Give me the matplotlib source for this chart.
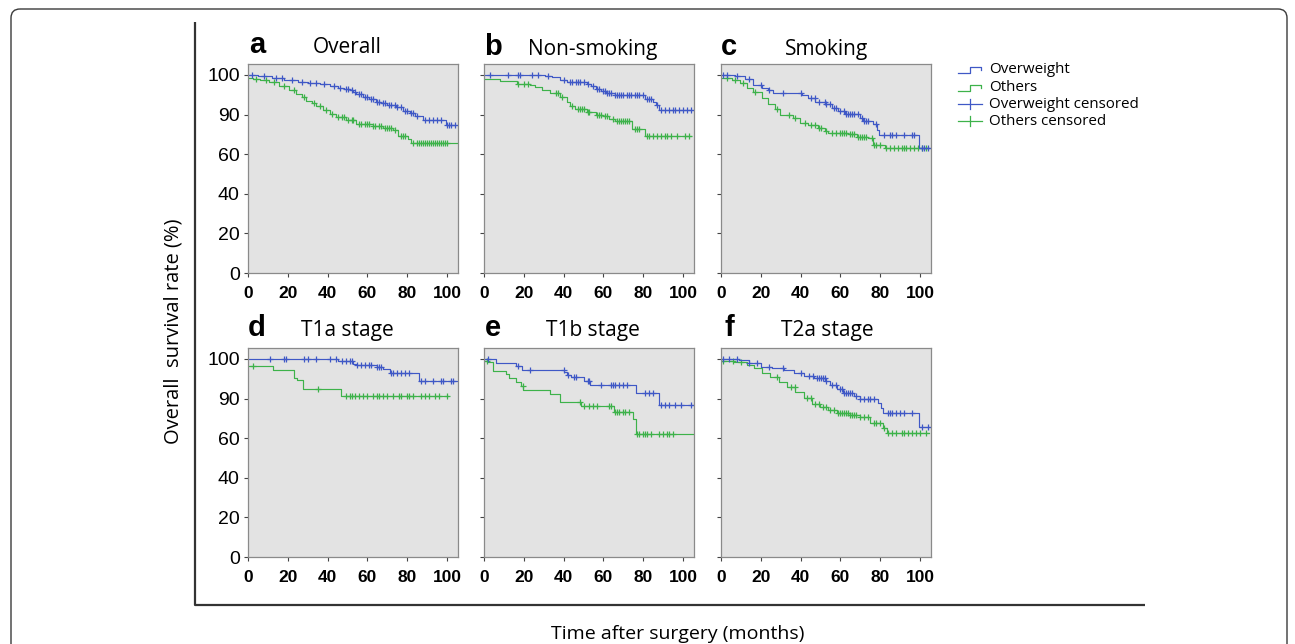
import numpy as np
import matplotlib
matplotlib.use("Agg")
import matplotlib.pyplot as plt
from matplotlib.patches import FancyBboxPatch

# Kaplan-Meier curves (y in plotted axis units, 0-100 scale)
# "ow" = Overweight, "ot" = Others; *_t step times, *_s survival, *_c censor times

# a  Overall
ow_a_t = [0, 5, 12, 18, 25, 30, 36, 41, 45, 48, 51, 53, 54.5, 58, 61, 64.5, 67, 69.6, 74.6, 78, 81.3, 84, 88, 99.5, 105]
ow_a_s = [100, 99.4, 98.6, 97.5, 96.6, 95.8, 95.2, 94.3, 93.6, 92.9, 92.2, 91.6, 90.3, 88.8, 87.6, 86.2, 85.6, 85.0, 84.0, 82.0, 80.6, 79.3, 77.4, 74.7, 74.7]
ow_a_c = [2, 8, 14, 17, 22, 27, 31, 34, 38, 43, 46, 49, 50, 52, 54, 56, 57, 59, 60, 62, 63, 65, 66, 68, 69, 71, 72,
          74, 75, 77, 79, 80, 82, 83, 85, 89, 91, 93, 95, 97, 100, 101, 102, 104]
ot_a_t = [0, 2.4, 6, 10.8, 15.8, 20.8, 24.2, 27, 29.2, 32, 34.3, 37.6, 41, 44.4, 49.4, 54.5, 62.9, 68, 73, 75.5, 80.5, 82, 105]
ot_a_s = [98.5, 97.8, 97.3, 96.6, 94.6, 92.6, 90.4, 88.8, 87.0, 85.6, 84.5, 82.4, 80.2, 78.5, 77.2, 75.2, 74.2, 73.1, 72.3, 69.3, 67.6, 65.4, 65.4]
ot_a_c = [4, 9, 13, 18, 23, 28, 33, 36, 39, 42, 45, 47, 48, 50, 52, 53, 56, 57, 59, 60, 61, 63, 64, 66, 67, 69, 70, 71,
          72, 74, 77, 78, 79, 83, 85, 86, 87, 88, 89, 90, 91, 92, 93, 94, 95, 96, 97, 98, 99, 100]

# b  Non-smoking
ow_b_t = [0, 30.6, 34, 38, 41.5, 51.5, 54, 56.5, 59, 61.5, 65.7, 80.8, 85, 86.6, 87.8, 105]
ow_b_s = [100, 99.3, 98.7, 97.6, 96.5, 95.6, 94.3, 93.1, 91.9, 91.1, 89.7, 87.7, 86.4, 84.7, 82.5, 82.5]
ow_b_c = [3, 12, 17, 18, 24, 27, 32, 40, 43, 44, 46, 47, 48, 50, 52, 55, 57, 58, 60, 61, 62, 63, 64, 66, 67, 68, 69,
          70, 72, 73, 74, 76, 77, 78, 80, 82, 83, 84, 87, 89, 91, 93, 95, 96, 98, 100, 102, 104]
ot_b_t = [0, 8, 16.4, 23, 25.6, 29, 33, 38, 41.5, 43, 45.6, 51.5, 56.5, 60, 63, 65.7, 74.6, 80.8, 104]
ot_b_s = [98.0, 96.8, 95.6, 95.1, 93.9, 92.6, 90.9, 88.6, 86.4, 84.3, 82.7, 81.5, 80.0, 79.1, 77.8, 76.6, 72.6, 69.0, 69.0]
ot_b_c = [17, 20, 22, 36, 37, 39, 44, 47, 48, 49, 50, 52, 53, 57, 58, 59, 61, 62, 65, 67, 68, 69, 70, 71, 72, 73,
          76, 77, 78, 82, 83, 85, 87, 89, 91, 92, 94, 97, 101, 103]

# c  Smoking
ow_c_t = [0, 7, 12, 16, 20.4, 23.8, 26.3, 40.5, 43.9, 47.2, 52.3, 55.6, 59, 62.3, 69.8, 71.5, 76.5, 78.2, 79.6, 99.5, 105]
ow_c_s = [100, 99.4, 97.8, 95.0, 93.6, 92.2, 90.7, 89.7, 88.2, 86.5, 85.2, 83.1, 81.8, 80.1, 78.4, 76.7, 75.0, 72.0, 69.6, 63.2, 63.2]
ow_c_c = [1, 3, 8, 14, 20, 24, 31, 40, 45, 47, 49, 52, 53, 55, 57, 58, 60, 62, 63, 64, 65, 66, 67, 69, 71, 72, 73,
          74, 78, 82, 85, 86, 88, 92, 96, 97, 101, 102, 104]
ot_c_t = [0, 5.4, 9.5, 12.9, 16.2, 20.4, 23.8, 27.1, 29.6, 36.3, 39.7, 43.9, 48.9, 52.3, 54, 64, 68.2, 74, 76.5, 82.4, 104]
ot_c_s = [98.6, 97.3, 96.1, 93.6, 91.6, 88.5, 85.5, 82.6, 79.8, 78.4, 75.9, 74.7, 73.0, 71.7, 70.7, 70.0, 68.8, 67.9, 64.6, 62.9, 62.9]
ot_c_c = [3, 7, 11, 17, 28, 34, 37, 42, 45, 47, 49, 50, 53, 56, 58, 60, 61, 62, 63, 65, 66, 67, 69, 70, 71, 72, 73,
          76, 77, 78, 80, 83, 85, 87, 89, 91, 92, 93, 95, 97, 99, 101, 103]

# d  T1a stage
ow_d_t = [0, 45.4, 52.9, 55, 64.7, 68, 71.1, 85.7, 105]
ow_d_s = [100, 98.8, 97.6, 97.1, 95.9, 95.0, 93.1, 88.7, 88.7]
ow_d_c = [11, 18, 19, 28, 30, 34, 41, 44, 47, 49, 51, 52, 55, 57, 59, 61, 62, 65, 66, 67, 72, 73, 75, 77, 79, 81,
          87, 89, 93, 97, 98, 102, 103]
ot_d_t = [0, 12.6, 23, 24.7, 27.7, 46.7, 100.5]
ot_d_s = [96.3, 94.3, 90.5, 89.2, 85.0, 81.1, 81.1]
ot_d_c = [2.5, 35, 49, 51, 52, 54, 56, 58, 60, 63, 65, 66, 68, 70, 73, 76, 77, 80, 81, 83, 87, 89, 91, 94, 96, 100]

# e  T1b stage
ow_e_t = [0, 5.9, 16, 19.3, 40.3, 41.5, 43.7, 50.4, 53.4, 76.5, 87.9, 105]
ow_e_s = [100, 98.0, 96.6, 94.6, 93.3, 91.9, 90.7, 89.0, 86.8, 82.6, 76.7, 76.7]
ow_e_c = [2, 17, 23, 40, 42, 45, 46, 52, 53, 59, 64, 65, 66, 68, 70, 72, 81, 83, 85, 89, 91, 93, 96, 99, 104]
ot_e_t = [0, 2.2, 4.5, 11.3, 12.6, 16, 18.5, 19.8, 33.3, 38.2, 48.7, 65.2, 74.8, 76.5, 105]
ot_e_s = [98.8, 98.4, 94.1, 92.4, 90.4, 88.2, 86.2, 84.5, 82.3, 78.1, 76.1, 73.4, 69.6, 62.1, 62.1]
ot_e_c = [1.5, 19.5, 48, 50, 53, 55, 57, 63, 64, 66, 67, 68, 70, 71, 73, 77, 78, 80, 81, 82, 84, 88, 90, 92, 93, 95]

# f  T2a stage
ow_f_t = [0, 8.9, 14, 20, 25.6, 31.4, 36.5, 41.5, 46.5, 52.3, 54.8, 58.2, 61.5, 66.6, 69.9, 79.1, 80.3, 81.5, 99.7, 105]
ow_f_s = [100, 99.2, 97.8, 96.1, 95.3, 94.4, 92.7, 91.4, 90.2, 89.0, 86.8, 84.7, 83.0, 81.5, 79.6, 77.6, 75.0, 72.5, 65.4, 65.4]
ow_f_c = [1, 4, 8, 14, 18, 24, 31, 40, 44, 46, 48, 49, 50, 51, 52, 53, 56, 58, 60, 61, 62, 63, 64, 65, 66, 68, 70,
          72, 74, 75, 77, 84, 85, 86, 88, 90, 92, 96, 101, 104]
ot_f_t = [0, 6.4, 13, 16.4, 20.6, 24.7, 28.9, 33.1, 37.3, 41.5, 45.7, 49.8, 54, 58.2, 64.9, 69.9, 74.9, 81.6, 83.3, 104.7]
ot_f_s = [98.8, 98.3, 97.0, 95.3, 92.7, 90.7, 88.5, 85.7, 83.1, 80.1, 77.2, 75.9, 74.2, 72.8, 71.7, 70.5, 67.5, 64.9, 62.4, 62.4]
ot_f_c = [1, 6, 10, 28, 35, 37, 43, 45, 47, 49, 51, 53, 55, 57, 59, 60, 61, 62, 63, 64, 65, 66, 67, 68, 70, 72, 74,
          77, 78, 80, 82, 84, 86, 88, 91, 92, 94, 96, 98, 100, 103]

letters = ["a", "b", "c", "d", "e", "f"]
titles = ["Overall", "Non-smoking", "Smoking", "T1a stage", "T1b stage", "T2a stage"]
y_ticks = [0, 20, 40, 60, 80, 100]
y_ticklabels = ["0", "20", "40", "60", "90", "100"]
x_ticks = [0, 20, 40, 60, 80, 100]
legend_labels = ["Overweight", "Others", "Overweight censored", "Others censored"]

curves = [
    (ow_a_t, ow_a_s, ow_a_c, ot_a_t, ot_a_s, ot_a_c),
    (ow_b_t, ow_b_s, ow_b_c, ot_b_t, ot_b_s, ot_b_c),
    (ow_c_t, ow_c_s, ow_c_c, ot_c_t, ot_c_s, ot_c_c),
    (ow_d_t, ow_d_s, ow_d_c, ot_d_t, ot_d_s, ot_d_c),
    (ow_e_t, ow_e_s, ow_e_c, ot_e_t, ot_e_s, ot_e_c),
    (ow_f_t, ow_f_s, ow_f_c, ot_f_t, ot_f_s, ot_f_c),
]

BLUE = "#3f58c6"
GREEN = "#3db24a"
W, H = 1295, 644

fig = plt.figure(figsize=(W / 100, H / 100), dpi=100)

# overlay in pixel coordinates for frame, labels and legend
ov = fig.add_axes([0, 0, 1, 1])
ov.set_xlim(0, W)
ov.set_ylim(H, 0)
ov.axis("off")
ov.add_patch(FancyBboxPatch((11, 9), 1276, 700, boxstyle="round,pad=0,rounding_size=9",
                            fill=False, ec="#3a3a3a", lw=1.0, clip_on=False))
ov.plot([195, 195, 1145], [22, 605, 605], color="#333333", lw=1.6, solid_capstyle="butt")
ov.text(173, 331, "Overall  survival rate (%)", rotation=90, ha="center", va="center",
        fontsize=14.5, family="Open Sans")
ov.text(678, 634, "Time after surgery (months)", ha="center", va="center",
        fontsize=14, family="Open Sans")

# legend drawn by hand
leg_y = [69, 87, 104, 121]
for i, lab in enumerate(legend_labels):
    y = leg_y[i]
    col = BLUE if i % 2 == 0 else GREEN
    if i < 2:
        ov.plot([958, 970, 970, 981, 981], [y + 4, y + 4, y - 2, y - 2, y + 1], color=col, lw=0.9)
    else:
        ov.plot([958, 982], [y, y], color=col, lw=0.9)
        ov.plot([970, 970], [y - 5, y + 5], color=col, lw=0.9)
    ov.text(989, y, lab, ha="left", va="center", fontsize=10.9, family="Open Sans")

# panel geometry in pixels: left, top
lefts = [248, 484, 721]
tops = [64, 348]
aw, ah = 210, 209
letter_x = [257, 493, 729]
title_x = [347, 593, 827]
base_y = [[53, 55, 55], [336, 336, 336]]


def step_value(t, s, c):
    idx = np.searchsorted(t, c, side="right") - 1
    return np.asarray(s)[idx]


for k in range(6):
    r, col_i = divmod(k, 3)
    l, tp = lefts[col_i], tops[r]
    ax = fig.add_axes([l / W, 1 - (tp + ah) / H, aw / W, ah / H])
    ax.set_facecolor("#e3e3e3")
    ow_t, ow_s, ow_c, ot_t, ot_s, ot_c = curves[k]
    for t, s, c, color in [(ot_t, ot_s, ot_c, GREEN), (ow_t, ow_s, ow_c, BLUE)]:
        t = np.array(t)
        s = np.array(s)
        ax.step(t, s, where="post", color=color, lw=0.85)
        c = np.array([v for v in c if t[0] <= v <= t[-1]])
        ax.plot(c, step_value(t, s, c), ls="none", marker="+", ms=4.5, mew=0.9, color=color)
    ax.set_xlim(0, 105.5)
    ax.set_ylim(0, 105.5)
    ax.set_xticks(x_ticks)
    ax.set_xticklabels([str(v) for v in x_ticks], fontweight="bold", fontsize=12.5,
                       family="Liberation Sans")
    ax.set_yticks(y_ticks)
    if col_i == 0:
        ax.set_yticklabels(y_ticklabels, fontsize=14, family="Liberation Sans")
    else:
        ax.set_yticklabels([])
    ax.tick_params(direction="out", length=3, width=0.8, color="#444444", pad=3)
    ax.tick_params(axis="x", pad=6)
    for sp in ax.spines.values():
        sp.set_color("#8a8a8a")
        sp.set_linewidth(0.9)
    ov.text(letter_x[col_i], base_y[r][col_i], letters[k], ha="center", va="baseline",
            fontsize=21, fontweight="bold", family="Liberation Sans")
    ov.text(title_x[col_i], base_y[r][col_i], titles[k], ha="center", va="baseline",
            fontsize=15, family="Open Sans")

fig.savefig("out.png", dpi=100)
